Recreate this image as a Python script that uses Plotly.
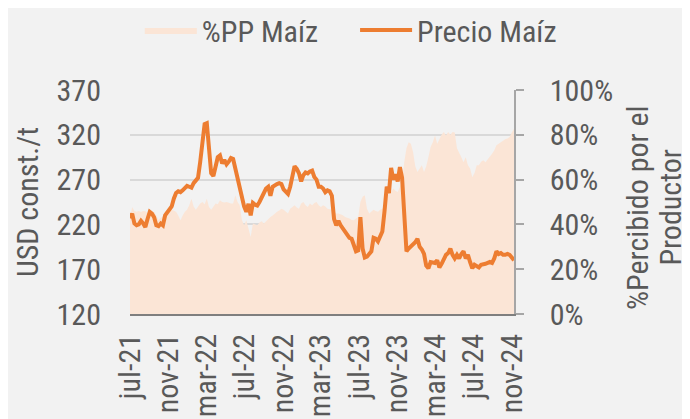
import pandas as pd
import plotly.graph_objects as go

# Weekly observations, July 2021 - November 2024
dates = pd.date_range("2021-07-01", periods=176, freq="7D")

precio_maiz = [
    227, 232, 221, 219, 220, 224, 221, 217, 226, 234,
    232, 228, 219, 218, 221, 219, 230, 234, 237, 240,
    249, 255, 257, 256, 258, 260, 263, 262, 261, 266,
    269, 272, 290, 314, 332, 333, 305, 277, 274, 284,
    295, 297, 288, 292, 287, 290, 294, 293, 282, 272,
    258, 251, 240, 234, 243, 230, 244, 242, 241, 245,
    250, 255, 260, 262, 252, 262, 264, 265, 266, 265,
    259, 256, 254, 262, 276, 285, 282, 277, 268, 275,
    278, 277, 279, 280, 273, 270, 262, 262, 260, 256,
    258, 257, 252, 226, 219, 224, 219, 215, 213, 208,
    205, 204, 196, 190, 191, 228, 193, 183, 184, 187,
    190, 205, 204, 201, 206, 212, 235, 262, 255, 283,
    270, 276, 268, 284, 272, 222, 190, 193, 195, 198,
    200, 204, 195, 192, 187, 174, 171, 178, 177, 177,
    180, 172, 176, 182, 186, 188, 193, 186, 182, 186,
    182, 187, 190, 182, 186, 178, 171, 175, 174, 172,
    175, 175, 176, 177, 178, 177, 182, 190, 187, 188,
    186, 186, 187, 186, 183, 180,
]

pp_maiz = [
    43, 47.8, 46, 45.6, 46, 45.5, 46, 45.9, 45, 44.9,
    45.5, 45.6, 44, 42, 43, 43.5, 45.6, 46.5, 47, 46.5,
    46, 45.6, 44, 41.9, 44, 45.6, 46.5, 48.6, 51.5, 48,
    46.5, 48, 49.3, 50, 49, 51.5, 47.8, 46.5, 48, 49.3,
    49, 50.8, 50, 49.8, 50, 49.5, 49.3, 49.3, 53, 50,
    48.6, 42, 39.6, 41.9, 38, 34.4, 40.4, 40, 39.6, 40.8,
    41.4, 40.4, 41.5, 42.6, 43.3, 44, 44.9, 45.6, 46.2, 47,
    46.5, 45.5, 44.9, 47, 48, 48.6, 47.5, 47, 49.3, 50,
    48.5, 47.8, 49.3, 48.6, 49.5, 50, 48.6, 47.8, 48.6, 48,
    47, 46.8, 46.5, 45.5, 44.9, 44.9, 44.5, 44.1, 43.3, 43,
    42.6, 42, 41.9, 42.6, 43.3, 50, 52.3, 53, 47, 44.9,
    45.6, 46.5, 46, 45.6, 46.5, 47, 49, 51.5, 54, 54.5,
    56, 55, 54.5, 56.7, 58.9, 68, 74, 76.7, 76, 72.3,
    66, 63.4, 65, 66.4, 63.4, 66, 70, 74.5, 76.7, 79.7,
    76, 78.3, 80, 81.2, 79.7, 81.2, 80, 81.2, 81, 74,
    72.3, 70, 67.8, 70, 66.4, 65, 61, 63, 66.4, 66.4,
    68, 68.6, 67.8, 69, 70, 71.5, 73, 75.3, 76, 76.7,
    77.5, 78, 78.3, 79, 81, 82.7,
]

tick_dates = ["2021-07-01", "2021-11-01", "2022-03-01", "2022-07-01",
              "2022-11-01", "2023-03-01", "2023-07-01", "2023-11-01",
              "2024-03-01", "2024-07-01", "2024-11-01"]
tick_labels = ["jul-21", "nov-21", "mar-22", "jul-22", "nov-22", "mar-23",
               "jul-23", "nov-23", "mar-24", "jul-24", "nov-24"]

FONT = "Roboto Condensed, Liberation Sans Narrow, DejaVu Sans Condensed, Roboto"
TXT = "#595959"
FS = 30

fig = go.Figure()
fig.add_trace(go.Scatter(
    x=dates, y=pp_maiz, name="%PP Maíz", yaxis="y", legend="legend",
    mode="lines", line=dict(width=0, color="#FBE5D6"),
    fill="tozeroy", fillcolor="#FBE5D6",
))
fig.add_trace(go.Scatter(
    x=dates, y=precio_maiz, name="Precio Maíz", yaxis="y2", legend="legend2",
    mode="lines", line=dict(width=4, color="#ED7D31"),
))

legend_common = dict(orientation="h", xanchor="left", yanchor="middle",
                     xref="container", yref="container",
                     bgcolor="rgba(0,0,0,0)", font=dict(size=FS, color=TXT),
                     itemwidth=52)

fig.update_layout(
    width=690, height=419,
    margin=dict(l=122, r=184, t=82, b=113, autoexpand=False),
    paper_bgcolor="#F2F2F2", plot_bgcolor="#F2F2F2",
    font=dict(family=FONT, size=FS, color=TXT),
    showlegend=True,
    legend=dict(x=0.191, y=0.9475, **legend_common),
    legend2=dict(x=0.503, y=0.9475, **legend_common),
    xaxis=dict(
        type="date", range=["2021-07-01", dates[-1]],
        tickvals=tick_dates, ticktext=tick_labels, tickangle=-90,
        showgrid=False, showline=True, linecolor="#7F7F7F", linewidth=2,
        ticks="", tickfont=dict(size=FS, color=TXT), ticklabelstandoff=6,
        automargin=False,
    ),
    yaxis=dict(
        side="right", range=[0, 100], dtick=20, ticksuffix="%",
        showgrid=True, gridcolor="#D9D9D9", gridwidth=1.5,
        showline=True, linecolor="#A6A6A6", linewidth=1.5,
        ticks="outside", ticklen=8, tickcolor="#A6A6A6", tickwidth=1.5,
        ticklabelstandoff=20, automargin=False,
        zeroline=False,
    ),
    yaxis2=dict(
        side="left", overlaying="y", range=[120, 370], tick0=120, dtick=50,
        showgrid=False, showline=False, zeroline=False, ticks="",
        ticklabelstandoff=28, automargin=False,
    ),
    annotations=[
        dict(text="USD const./t", textangle=-90, xref="paper", yref="paper",
             x=-0.268, y=0.5, xanchor="center", yanchor="middle", showarrow=False,
             font=dict(size=FS, color=TXT)),
        dict(text="%Percibido por el", textangle=-90, xref="paper", yref="paper",
             x=1.320, y=0.473, xanchor="center", yanchor="middle", showarrow=False,
             font=dict(size=FS, color=TXT)),
        dict(text="Productor", textangle=-90, xref="paper", yref="paper",
             x=1.408, y=0.478, xanchor="center", yanchor="middle", showarrow=False,
             font=dict(size=FS, color=TXT)),
    ],
)

fig.write_html("out.html")
